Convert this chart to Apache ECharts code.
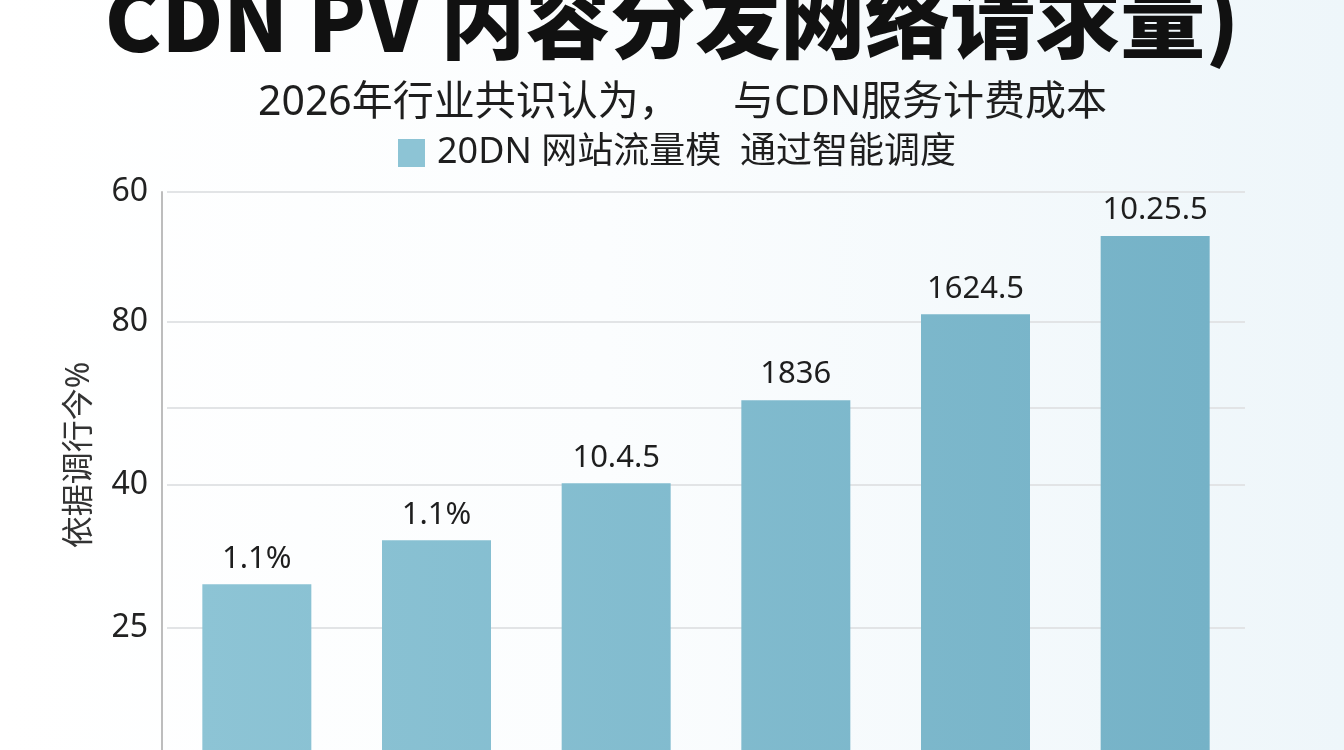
<!DOCTYPE html>
<html>
<head>
<meta charset="utf-8">
<title>CDN PV</title>
<script src="https://cdn.jsdelivr.net/npm/echarts@6.0.0/dist/echarts.min.js"></script>
<style>
  html, body { margin: 0; padding: 0; }
  body { background: linear-gradient(90deg, #ffffff 0%, #fbfdfe 45%, #eef6fa 100%); }
  #main { width: 1344px; height: 750px; }
</style>
</head>
<body>
<div id="main"></div>
<script>
// 数据
var categories = ['一', '二', '三', '四', '五', '六']
var barValues = [29.7, 37.6, 47.8, 62.7, 78.1, 92.1] // 柱子高度（按纵轴位置读出）
var barLabels = ['1.1%', '1.1%', '10.4.5', '1836', '1624.5', '10.25.5']
var tickPos = [21.9, 47.5, 61.3, 76.7, 100] // 刻度所在位置
var tickText = ['25', '40', '', '80', '60'] // 刻度上写的字
var seriesName = '20DN 网站流量模  通过智能调度'

var myChart = echarts.init(document.getElementById('main'), null, { renderer: 'canvas' })

var font = "'Noto Sans', 'Noto Sans CJK SC', sans-serif"

var option = {
    backgroundColor: 'transparent',
    title: [{
        text: 'CDN PV 内容分发网络请求量)',
        left: 'center',
        top: -28,
        textStyle: {
            fontFamily: "'Noto Sans CJK SC', 'Noto Sans', sans-serif",
            fontSize: 85,
            fontWeight: 900,
            color: '#111'
        }
    }, {
        text: '2026年行业共识认为，     与CDN服务计费成本',
        left: 253,
        top: 78,
        textStyle: {
            fontFamily: font,
            fontSize: 41,
            fontWeight: 'normal',
            color: '#1e1e1e'
        }
    }],
    legend: {
        data: [seriesName],
        left: 393,
        top: 130,
        icon: 'rect',
        itemWidth: 27,
        itemHeight: 28,
        textStyle: {
            fontFamily: font,
            fontSize: 36,
            color: '#1e1e1e',
            padding: [0, 0, 0, 7]
        }
    },
    grid: {
        left: 167,
        right: 99,
        top: 192,
        bottom: 0
    },
    xAxis: {
        type: 'category',
        data: categories,
        axisLine: { show: false },
        axisTick: { show: false },
        axisLabel: { show: false }
    },
    yAxis: {
        type: 'value',
        min: 0,
        max: 100,
        offset: 5,
        name: '依据调行今%',
        nameLocation: 'middle',
        nameRotate: 90,
        nameGap: 66,
        nameTextStyle: {
            fontFamily: font,
            fontSize: 32,
            color: '#333',
            padding: [0, 0, 0, 32]
        },
        axisLine: { show: true, lineStyle: { color: '#bdbdbd', width: 2 } },
        axisTick: { show: false, customValues: tickPos },
        axisLabel: {
            customValues: tickPos,
            margin: 14,
            fontFamily: font,
            fontSize: 32,
            color: '#222',
            formatter: function (v) {
                var i = tickPos.indexOf(v)
                return i >= 0 ? tickText[i] : ''
            }
        },
        splitLine: { show: true, lineStyle: { color: '#e2e4e6', width: 2 } }
    },
    series: [{
        name: seriesName,
        type: 'bar',
        barWidth: 109,
        data: barValues,
        itemStyle: {
            // 从左到右颜色慢慢变深
            color: new echarts.graphic.LinearGradient(200, 0, 1210, 0, [
                { offset: 0, color: '#8dc4d5' },
                { offset: 1, color: '#75b2c7' }
            ], true)
        },
        label: {
            show: true,
            position: 'top',
            distance: 10,
            fontFamily: font,
            fontSize: 31,
            color: '#1e1e1e',
            formatter: function (p) {
                return barLabels[p.dataIndex]
            }
        }
    }]
}

myChart.setOption(option)
</script>
</body>
</html>
